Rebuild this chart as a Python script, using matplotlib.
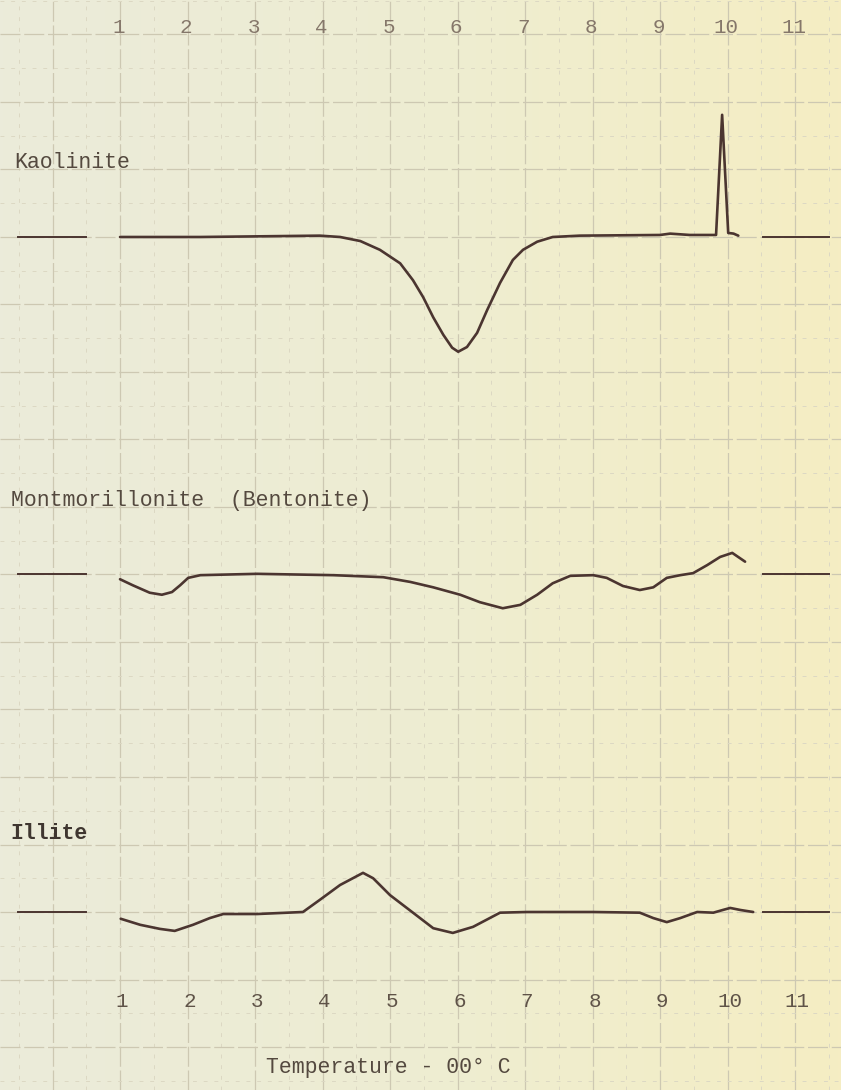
import numpy as np
import matplotlib
matplotlib.use("Agg")
import matplotlib.pyplot as plt
from matplotlib.colors import LinearSegmentedColormap

# Temperature axis in hundreds of degrees C
tick_values = [1, 2, 3, 4, 5, 6, 7, 8, 9, 10, 11]
tick_labels = ["1", "2", "3", "4", "5", "6", "7", "8", "9", "10", "11"]

# Differential thermal curves: temperature (x 100 C) and deflection (grid units)
kaolinite_t = [1.00, 2.19, 3.96, 4.26, 4.56, 4.85, 5.15, 5.34, 5.49, 5.64, 5.79,
               5.92, 6.01, 6.14, 6.29, 6.44, 6.63, 6.82, 6.97, 7.18, 7.41, 7.81,
               9.00, 9.15, 9.44, 9.83, 9.92, 10.01, 10.09, 10.16]
kaolinite_d = [0.00, 0.00, 0.02, 0.00, -0.06, -0.19, -0.39, -0.64, -0.89, -1.19,
               -1.45, -1.64, -1.70, -1.63, -1.42, -1.08, -0.68, -0.34, -0.19, -0.07,
               0.00, 0.02, 0.03, 0.05, 0.03, 0.03, 1.81, 0.06, 0.05, 0.02]

montmorillonite_t = [1.00, 1.19, 1.44, 1.62, 1.77, 1.89, 2.01, 2.19, 3.03, 4.16,
                     4.90, 5.30, 5.64, 6.04, 6.33, 6.67, 6.93, 7.18, 7.41, 7.67,
                     8.01, 8.21, 8.45, 8.70, 8.90, 9.10, 9.30, 9.49, 9.70, 9.89,
                     10.07, 10.26]
montmorillonite_d = [-0.07, -0.16, -0.27, -0.30, -0.26, -0.16, -0.05, -0.01, 0.01,
                     -0.01, -0.04, -0.11, -0.19, -0.30, -0.41, -0.50, -0.45, -0.30,
                     -0.13, -0.02, -0.01, -0.05, -0.17, -0.23, -0.19, -0.05, -0.01,
                     0.02, 0.14, 0.26, 0.32, 0.19]

illite_t = [1.01, 1.30, 1.59, 1.81, 2.08, 2.33, 2.53, 3.03, 3.71, 3.96, 4.26,
            4.60, 4.75, 5.00, 5.34, 5.64, 5.93, 6.23, 6.63, 7.03, 8.01, 8.70,
            8.90, 9.10, 9.30, 9.55, 9.79, 9.93, 10.04, 10.19, 10.38]
illite_d = [-0.10, -0.19, -0.25, -0.28, -0.19, -0.09, -0.03, -0.03, 0.00, 0.18,
            0.40, 0.58, 0.50, 0.25, -0.01, -0.24, -0.31, -0.22, -0.01, 0.00,
            0.00, -0.01, -0.09, -0.15, -0.09, 0.00, -0.01, 0.03, 0.06, 0.03, 0.00]

curve_names = ["Kaolinite", "Montmorillonite  (Bentonite)", "Illite"]
baselines = [10.0, 5.0, 0.0]
curves = [(kaolinite_t, kaolinite_d), (montmorillonite_t, montmorillonite_d),
          (illite_t, illite_d)]

# reference dashes drawn either side of each trace
left_ref = (-0.51, 0.50)
right_ref = (10.53, 11.50)

ink = "#4b3530"
type_ink = "#54493f"
mono = ["Liberation Mono", "DejaVu Sans Mono"]

fig = plt.figure(figsize=(8.41, 10.90), dpi=100)
ax = fig.add_axes([0, 0, 1, 1])
xlim = (-0.778, 11.681)
ylim = (-2.637, 13.511)

# paper tint, greyer on the left and yellower on the right
paper = LinearSegmentedColormap.from_list("paper", ["#ebebda", "#eeedd2", "#f5edc3"])
grad = np.tile(np.linspace(0, 1, 256), (2, 1))
ax.imshow(grad, cmap=paper, extent=(*xlim, *ylim), aspect="auto", zorder=0)

# graph paper ruling, faint and broken
for gx in np.arange(-0.5, 12.0, 0.5):
    major = float(gx).is_integer()
    ax.axvline(gx, color="#cdc8b2" if major else "#dcd8c3",
               lw=0.9 if major else 0.7,
               ls=(0, (16, 3)) if major else (0, (4, 7)), zorder=1)
for gy in np.arange(-2.5, 14.0, 0.5):
    major = float(gy).is_integer()
    ax.axhline(gy, color="#cdc8b2" if major else "#dcd8c3",
               lw=0.9 if major else 0.7,
               ls=(0, (16, 3)) if major else (0, (4, 7)), zorder=1)

# traces
for name, base, (t, d) in zip(curve_names, baselines, curves):
    ax.plot(t, base + np.asarray(d), color=ink, lw=1.9, solid_joinstyle="round",
            solid_capstyle="round", zorder=3)
    ax.plot(left_ref, [base, base], color=ink, lw=1.4, zorder=3)
    ax.plot(right_ref, [base, base], color=ink, lw=1.4, zorder=3)

# curve titles
ax.text(-0.57, 11.11, curve_names[0], family=mono, fontsize=15.5, color=type_ink,
        ha="left", va="center", zorder=4)
ax.text(-0.61, 6.09, curve_names[1], family=mono, fontsize=15.5, color=type_ink,
        ha="left", va="center", zorder=4)
ax.text(-0.63, 1.17, curve_names[2], family=mono, fontsize=15.5, color="#3f3630",
        fontweight="bold", ha="left", va="center", zorder=4)

# temperature scales top and bottom
for v, lab in zip(tick_values, tick_labels):
    ax.text(v - 0.02, 13.10, lab, family=mono, fontsize=15, color="#85776a",
            ha="center", va="center", zorder=4)
    ax.text(v + 0.03, -1.33, lab, family=mono, fontsize=15, color="#5f5348",
            ha="center", va="center", zorder=4)

ax.text(4.97, -2.31, "Temperature - 00\u00b0 C", family=mono, fontsize=15.5,
        color=type_ink, ha="center", va="center", zorder=4)

ax.set_xlim(*xlim)
ax.set_ylim(*ylim)
ax.axis("off")
fig.savefig("out.png", dpi=100)
